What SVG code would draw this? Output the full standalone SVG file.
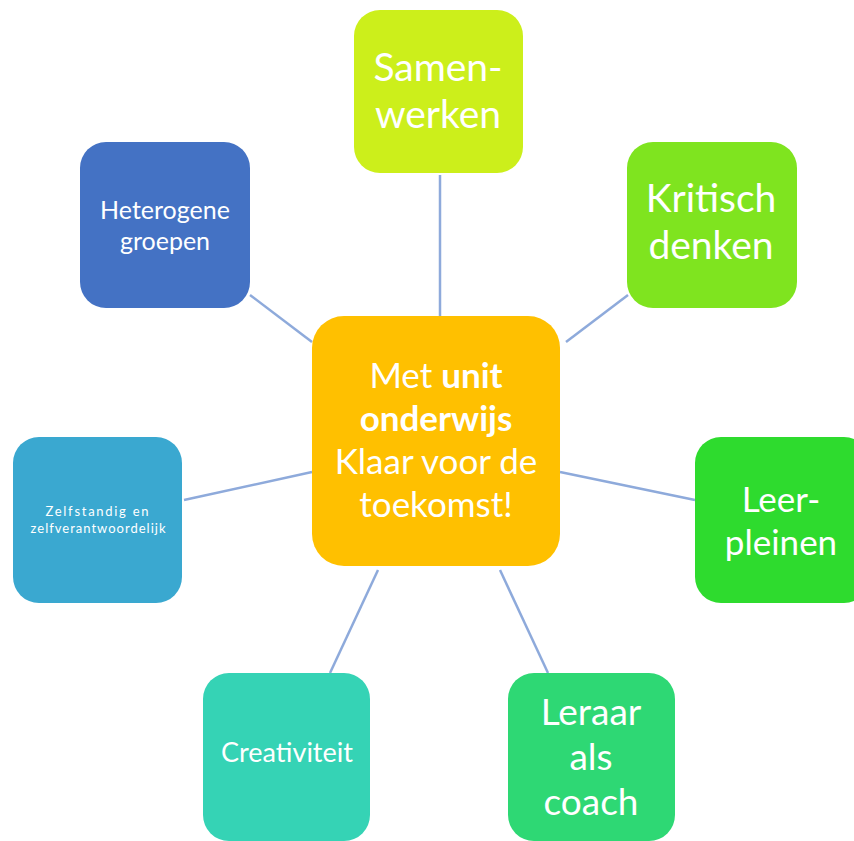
<svg xmlns="http://www.w3.org/2000/svg" width="854" height="841" viewBox="0 0 854 841">
<style>
.box{stroke:none}
.t{font-family:Lato,"Open Sans","Liberation Sans",sans-serif;fill:#ffffff;text-anchor:middle}
.big{font-size:39px}
.conn line{stroke:#8eaadb;stroke-width:2.5}
</style>
<rect width="854" height="841" fill="#ffffff"/>
<g class="conn" id="connectors">
<line x1="440" y1="175" x2="440" y2="317"/>
<line x1="628" y1="295" x2="566" y2="342"/>
<line x1="250" y1="295" x2="312" y2="342"/>
<line x1="184" y1="500" x2="312" y2="472"/>
<line x1="560" y1="472" x2="695" y2="500"/>
<line x1="378" y1="570" x2="330" y2="673"/>
<line x1="500" y1="570" x2="548" y2="673"/>
</g>
<g id="samenwerken">
<rect class="box" x="354" y="10" width="169" height="163" rx="26" fill="#ccef1b"/>
<text class="t big" x="438" y="81">Samen-</text>
<text class="t big" x="438" y="128">werken</text>
</g>
<g id="kritisch">
<rect class="box" x="627" y="142" width="170" height="166" rx="26" fill="#7fe41f"/>
<text class="t big" x="711" y="212">Kritisch</text>
<text class="t big" x="711" y="259">denken</text>
</g>
<g id="heterogene">
<rect class="box" x="80" y="142" width="170" height="166" rx="26" fill="#4472c4"/>
<text class="t" x="165" y="219" font-size="25">Heterogene</text>
<text class="t" x="165" y="250" font-size="25">groepen</text>
</g>
<g id="center">
<rect class="box" x="312" y="316" width="248" height="250" rx="32" fill="#ffc000"/>
<text class="t" x="436" y="388" font-size="35">Met <tspan font-weight="bold">unit</tspan></text>
<text class="t" x="436" y="431" font-size="35" font-weight="bold">onderwijs</text>
<text class="t" x="436" y="474" font-size="35">Klaar voor de</text>
<text class="t" x="436" y="517" font-size="35">toekomst!</text>
</g>
<g id="zelfstandig">
<rect class="box" x="13" y="437" width="169" height="166" rx="26" fill="#3aa8d0"/>
<text class="t" x="97" y="516" font-size="13" textLength="103" lengthAdjust="spacing">Zelfstandig  en</text>
<text class="t" x="98" y="533" font-size="13" textLength="135" lengthAdjust="spacing">zelfverantwoordelijk</text>
</g>
<g id="leerpleinen">
<rect class="box" x="695" y="437" width="175" height="166" rx="26" fill="#2edb2e"/>
<text class="t" x="781" y="512" font-size="35">Leer-</text>
<text class="t" x="781" y="555" font-size="35">pleinen</text>
</g>
<g id="leraar">
<rect class="box" x="508" y="673" width="167" height="168" rx="26" fill="#2ed874"/>
<text class="t" x="591" y="725" font-size="37">Leraar</text>
<text class="t" x="591" y="770" font-size="37">als</text>
<text class="t" x="591" y="815" font-size="37">coach</text>
</g>
<g id="creativiteit">
<rect class="box" x="203" y="673" width="167" height="168" rx="26" fill="#35d3b5"/>
<text class="t" x="287" y="762" font-size="27">Creativiteit</text>
</g>
</svg>
